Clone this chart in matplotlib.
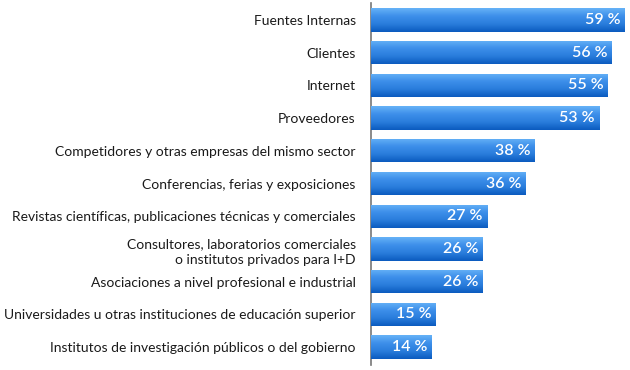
import numpy as np
from matplotlib import pyplot as plt
from matplotlib.colors import LinearSegmentedColormap

categories = [
    "Fuentes Internas",
    "Clientes",
    "Internet",
    "Proveedores",
    "Competidores y otras empresas del mismo sector",
    "Conferencias, ferias y exposiciones",
    "Revistas científicas, publicaciones técnicas y comerciales",
    "Consultores, laboratorios comerciales\no institutos privados para I+D",
    "Asociaciones a nivel profesional e industrial",
    "Universidades u otras instituciones de educación superior",
    "Institutos de investigación públicos o del gobierno",
]
values = [59, 56, 55, 53, 38, 36, 27, 26, 26, 15, 14]

plt.rcParams['font.family'] = ['Lato', 'DejaVu Sans']

fig = plt.figure(figsize=(6.3, 3.7), dpi=100)
ax = fig.add_axes([371 / 630, 5 / 370, 259 / 630, 362 / 370])

y = np.arange(len(categories))
bars = ax.barh(y, values, height=0.71, color='#2f82e0', edgecolor='none', zorder=2)

# vertical gradient: light on top, dark at bottom
grad = np.linspace(0, 1, 64).reshape(-1, 1)
cmap = LinearSegmentedColormap.from_list('bar', ['#66b2f7', '#3d8fea', '#2a7ddc', '#0b5bbf'])
for b in bars:
    x0, y0 = b.get_x(), b.get_y()
    w, h = b.get_width(), b.get_height()
    im = ax.imshow(grad, cmap=cmap, aspect='auto', extent=(x0, x0 + w, y0 + h, y0),
                   zorder=3, interpolation='bicubic')
    im.set_clip_path(b)

for i, v in enumerate(values):
    ax.text(v - 1.0, i, f"{v} %", ha='right', va='center', color='white',
            fontsize=11.5, fontweight='semibold', zorder=4)

ax.set_xlim(0, 60.2)
ax.set_ylim(10.55, -0.52)
ax.set_yticks(y)
ax.set_yticklabels(categories, fontsize=10, color='#1a1a1a', linespacing=1.45)
ax.tick_params(axis='y', length=0, pad=11)
ax.set_xticks([])
for s in ['top', 'right', 'bottom']:
    ax.spines[s].set_visible(False)
ax.spines['left'].set_color('#777777')
ax.spines['left'].set_linewidth(1.2)

plt.savefig("out.png", dpi=100)
